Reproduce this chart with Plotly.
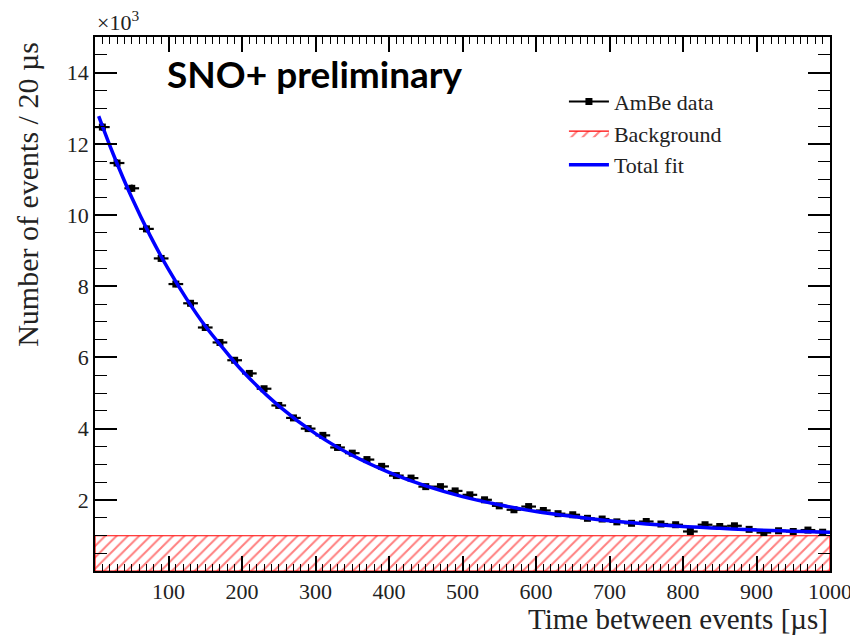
import numpy as np
import plotly.graph_objects as go

# ---- data ----
bin_centers = [10, 30, 50, 70, 90, 110, 130, 150, 170, 190,
               210, 230, 250, 270, 290, 310, 330, 350, 370, 390,
               410, 430, 450, 470, 490, 510, 530, 550, 570, 590,
               610, 630, 650, 670, 690, 710, 730, 750, 770, 790,
               810, 830, 850, 870, 890, 910, 930, 950, 970, 990]
ambe_counts = [12470, 11460, 10750, 9610, 8780, 8060, 7520, 6840, 6420, 5920,
               5550, 5120, 4650, 4300, 4000, 3810, 3470, 3310, 3130, 2940,
               2680, 2610, 2370, 2370, 2250, 2140, 2000, 1830, 1720, 1810,
               1700, 1610, 1580, 1480, 1460, 1380, 1340, 1390, 1320, 1300,
               1110, 1300, 1250, 1270, 1170, 1080, 1130, 1110, 1150, 1090]
bin_half_width = 10

fit_x = [5, 25, 50, 75, 100, 125, 150, 175, 200, 250, 300, 350, 400, 450,
         500, 550, 600, 650, 700, 750, 800, 850, 900, 950, 1000]
fit_y = [12780, 11700, 10490, 9420, 8470, 7630, 6880, 6240, 5630, 4640, 3860,
         3250, 2770, 2390, 2090, 1860, 1670, 1530, 1410, 1320, 1250, 1200,
         1150, 1120, 1090]

background_level = 990
background_range = [0, 1000]

x_tick_vals = [100, 200, 300, 400, 500, 600, 700, 800, 900, 1000]
x_tick_text = ["100", "200", "300", "400", "500", "600", "700", "800", "900", "1000"]
y_tick_vals = [2000, 4000, 6000, 8000, 10000, 12000, 14000]
y_tick_text = ["2", "4", "6", "8", "10", "12", "14"]

serif = "Liberation Serif, Times New Roman, serif"

fig = go.Figure()

# background hatched band (filled region)
bx0, bx1 = background_range
fig.add_trace(go.Scatter(
    x=[bx0, bx1, bx1, bx0, bx0],
    y=[0, 0, background_level, background_level, 0],
    mode="lines", fill="toself", name="Background",
    line=dict(color="red", width=1.2),
    fillcolor="white",
    fillpattern=dict(shape="/", fgcolor="red", bgcolor="white",
                     size=8, solidity=0.25),
    legendrank=2,
    hoverinfo="skip",
))

# data points
fig.add_trace(go.Scatter(
    x=bin_centers, y=ambe_counts, mode="markers",
    marker=dict(symbol="square", size=7, color="black"),
    error_x=dict(type="constant", value=bin_half_width, thickness=2.2, width=0, color="black"),
    error_y=dict(type="data", array=np.sqrt(ambe_counts), thickness=2, width=0, color="black"),
    showlegend=False,
))
# legend entry for data (line + marker)
fig.add_trace(go.Scatter(
    x=[None], y=[None], mode="lines+markers", name="AmBe data",
    line=dict(color="black", width=2),
    marker=dict(symbol="square", size=7, color="black"),
    legendrank=1,
))

# total fit
fig.add_trace(go.Scatter(
    x=fit_x, y=fit_y, mode="lines", name="Total fit",
    line=dict(color="#0000ff", width=3.5, shape="spline"),
    legendrank=3,
))

axis_common = dict(
    showline=True, linecolor="black", linewidth=1.5, mirror="allticks",
    ticks="inside", tickcolor="black", tickwidth=1.5,
    showgrid=False, zeroline=False, automargin=False,
    tickfont=dict(family=serif, size=22, color="#222"),
)

fig.update_xaxes(
    range=[0, 1000], tickmode="array", tickvals=x_tick_vals, ticktext=x_tick_text,
    ticklen=15,
    minor=dict(ticks="inside", ticklen=7, tickmode="linear", tick0=0, dtick=10,
               tickcolor="black", tickwidth=1.2, showgrid=False),
    **axis_common,
)
fig.update_yaxes(
    range=[0, 15000], tickmode="array", tickvals=y_tick_vals, ticktext=y_tick_text,
    ticklen=22,
    minor=dict(ticks="inside", ticklen=12, tickmode="linear", tick0=0, dtick=500,
               tickcolor="black", tickwidth=1.2, showgrid=False),
    **axis_common,
)

# the page body adds an 8px offset, so the figure is sized to fit the window
fig.update_layout(
    width=850, height=629,
    margin=dict(l=87, r=28, t=29, b=66, autoexpand=False),
    paper_bgcolor="white", plot_bgcolor="white",
    showlegend=True,
    legend=dict(x=0.638, y=0.918, xanchor="left", yanchor="top",
                font=dict(family=serif, size=22, color="#222"),
                bgcolor="rgba(0,0,0,0)", itemwidth=40, tracegroupgap=0),
    annotations=[
        dict(text="Time between events [µs]", xref="paper", yref="paper",
             x=1.0, y=-0.0895, xanchor="right", yanchor="middle", showarrow=False,
             font=dict(family=serif, size=29, color="#222")),
        dict(text="Number of events / 20 µs", xref="paper", yref="paper",
             x=-0.091, y=0.994, xanchor="center", yanchor="top", textangle=-90,
             showarrow=False, font=dict(family=serif, size=30, color="#222")),
        dict(text="×10<sup>3</sup>", xref="paper", yref="paper",
             x=0.0, y=1.0, xanchor="left", yanchor="bottom", showarrow=False,
             font=dict(family=serif, size=22, color="#222")),
        dict(text="<b>SNO+ preliminary</b>", xref="paper", yref="paper",
             x=0.0952, y=0.932, xanchor="left", yanchor="middle", showarrow=False,
             font=dict(family="Lato, Open Sans, sans-serif", size=37, color="black")),
    ],
)

fig.write_html("out.html")
